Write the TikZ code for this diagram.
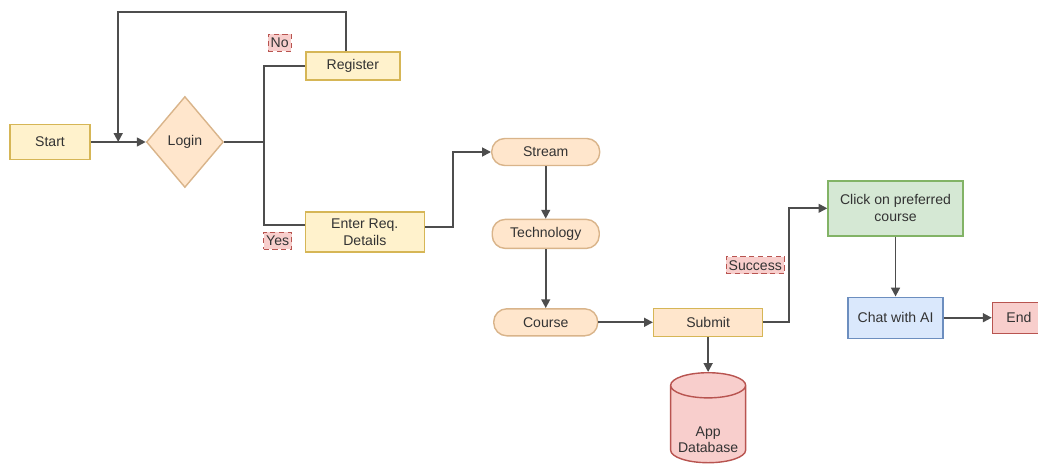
\documentclass[tikz,border=0pt]{standalone}
\usepackage{fontspec}
\setmainfont{Liberation Sans}
\usetikzlibrary{shapes.geometric, arrows.meta, positioning, calc}
\definecolor{flowyellow}{HTML}{FFF2CC}
\definecolor{flowyellowline}{HTML}{D6B656}
\definecolor{floworange}{HTML}{FFE6CC}
\definecolor{floworangeline}{HTML}{D9B48A}
\definecolor{flowgreen}{HTML}{D5E8D4}
\definecolor{flowgreenline}{HTML}{82B366}
\definecolor{flowblue}{HTML}{DAE8FC}
\definecolor{flowblueline}{HTML}{6C8EBF}
\definecolor{flowred}{HTML}{F8CECC}
\definecolor{flowredline}{HTML}{B85450}
\definecolor{flowtext}{HTML}{333333}
\definecolor{flowedge}{HTML}{4D4D4D}

\begin{document}
\begin{tikzpicture}[
    font=\fontsize{8}{9.5}\selectfont,
    text=flowtext,
    node distance=1cm,
    entry_node/.style={rectangle, fill=flowyellow, draw=flowyellowline, thick, align=center, minimum height=0.56cm},
    decision_node/.style={diamond, aspect=0.85, fill=floworange, draw=floworangeline, thick, minimum width=1.54cm, minimum height=1.82cm, inner sep=0pt},
    pill_node/.style={rectangle, rounded corners=0.26cm, fill=floworange, draw=floworangeline, thick, minimum height=0.54cm},
    submit_node/.style={rectangle, fill=floworange, draw=flowyellowline, thick, minimum width=2.18cm, minimum height=0.56cm},
    pick_node/.style={rectangle, fill=flowgreen, draw=flowgreenline, thick, align=center, minimum width=2.7cm, minimum height=1.1cm},
    chat_node/.style={rectangle, fill=flowblue, draw=flowblueline, thick, minimum width=1.9cm, minimum height=0.82cm},
    end_node/.style={rectangle, fill=flowred, draw=flowredline, thick, minimum width=1.06cm, minimum height=0.62cm},
    db_node/.style={cylinder, shape border rotate=90, aspect=0.35, fill=flowred, draw=flowredline, thick, minimum width=1.5cm, minimum height=1.8cm},
    label_node/.style={rectangle, fill=flowred, draw=flowredline, densely dashed, thin, inner sep=1.5pt, minimum height=0.34cm},
    line/.style={draw=flowedge, line width=1pt},
    arrow/.style={line, -{Triangle[length=5pt, width=5pt]}}
]

\useasboundingbox (0,0) rectangle (20.76,-9.28);

\node[entry_node, minimum width=1.6cm, minimum height=0.7cm] (start) at (1.0,-2.84) {Start};
\node[decision_node, right=1.1cm of start] (login) {Login};

% Login outcomes
\node[entry_node, minimum width=1.88cm, right=1.62cm of login, yshift=1.52cm] (register) {Register};
\node[entry_node, minimum width=2.38cm, minimum height=0.8cm, right=1.61cm of login, yshift=-1.8cm] (details) {Enter Req.\\Details};
\node[label_node, above left=0.29cm and 0.27cm of register.west] (no) {No};
\node[label_node, below left=0cm and 0.25cm of details.west] (yes) {Yes};

% Selection
\node[pill_node, minimum width=2.16cm, right=1.32cm of details, yshift=1.6cm] (stream) {Stream};
\node[pill_node, minimum width=2.14cm, minimum height=0.58cm, below=1.05cm of stream] (technology) {Technology};
\node[pill_node, minimum width=2.08cm, below=1.18cm of technology] (course) {Course};
\node[submit_node, right=1.09cm of course] (submit) {Submit};

% Database
\node[db_node, below=0.7cm of submit] (appdb) {\phantom{Database}};
\node[align=center] (appdbtext) at ([yshift=-0.24cm]appdb.center) {App\\Database};

% After success
\node[pick_node, right=1.28cm of submit, yshift=2.28cm] (pick) {Click on preferred\\course};
\node[chat_node, below=1.2cm of pick] (chat) {Chat with AI};
\node[end_node, right=0.96cm of chat] (finish) {End};

% Connections
\coordinate (merge) at ($(start.east)!0.5!(login.west)$);
\draw[arrow] (start) -- (login);
\draw[line] (login.east) -- ++(0.8,0) |- (register.west);
\draw[line] (login.east) -- ++(0.8,0) |- ([yshift=0.14cm]details.west);
\draw[arrow] ([xshift=-0.14cm]register.north) -- ++(0,0.78) -| (merge);
\draw[arrow] ([yshift=0.1cm]details.east) -- ++(0.56,0) |- (stream.west);
\draw[arrow] (stream) -- (technology);
\draw[arrow] (technology) -- (course);
\draw[arrow] (course) -- (submit);
\draw[arrow] (submit) -- (appdb);
\draw[arrow] (submit.east) -- ++(0.51,0) |- node[label_node, pos=0.25, left=0.08cm] (success) {Success} (pick.west);
\draw[arrow] (pick) -- (chat);
\draw[arrow] (chat) -- (finish);

\end{tikzpicture}
\end{document}
